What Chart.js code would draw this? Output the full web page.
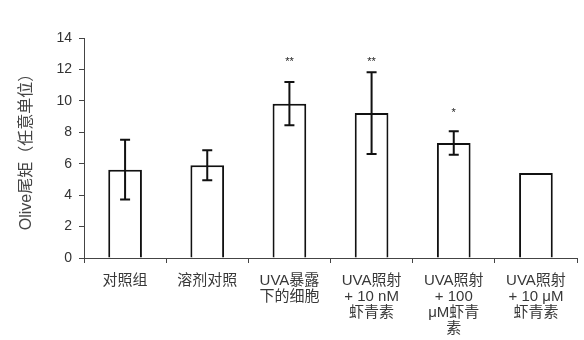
<!DOCTYPE html>
<html><head><meta charset="utf-8">
<script src="https://cdn.jsdelivr.net/npm/chart.js@4"></script>
<style>html,body{margin:0;padding:0;background:#fff}#wrap{width:584px;height:340px}</style>
</head><body><div id="wrap"><canvas id="c" width="584" height="340"></canvas></div>
<script>
const categories = [
  "对照组",
  "溶剂对照",
  ["UVA暴露", "下的细胞"],
  ["UVA照射", "+ 10 nM", "虾青素"],
  ["UVA照射", "+ 100", "μM虾青", "素"],
  ["UVA照射", "+ 10 μM", "虾青素"]
];
const values = [5.62, 5.9, 9.82, 9.22, 7.32, 5.41];
const errors = [1.9, 0.95, 1.38, 2.6, 0.75, 0];
const stars = ["", "", "**", "**", "*", ""];
const starLevels = [null, null, 12.45, 12.45, 9.2, null];
const yTicks = [0, 2, 4, 6, 8, 10, 12, 14];
const yTitle = "Olive尾矩（任意单位）";

const FONT = '"Liberation Sans", Arial, "Noto Sans CJK SC", sans-serif';

const errorBarPlugin = {
  id: 'errbars',
  afterDatasetsDraw(chart) {
    const ctx = chart.ctx;
    const xs = chart.scales.x, ys = chart.scales.y;
    ctx.save();
    ctx.strokeStyle = '#111';
    ctx.lineWidth = 2;
    values.forEach((v, i) => {
      const x = xs.getPixelForValue(i);
      if (errors[i] > 0) {
        const yt = ys.getPixelForValue(v + errors[i]);
        const yb = ys.getPixelForValue(v - errors[i]);
        ctx.beginPath();
        ctx.moveTo(x, yt); ctx.lineTo(x, yb);
        ctx.moveTo(x - 5, yt); ctx.lineTo(x + 5, yt);
        ctx.moveTo(x - 5, yb); ctx.lineTo(x + 5, yb);
        ctx.stroke();
      }
      if (stars[i]) {
        ctx.fillStyle = '#222';
        ctx.font = '11px ' + FONT;
        ctx.textAlign = 'center';
        ctx.textBaseline = 'middle';
        ctx.fillText(stars[i], x, ys.getPixelForValue(starLevels[i]));
      }
    });
    ctx.restore();
  }
};

new Chart(document.getElementById('c'), {
  type: 'bar',
  data: {
    labels: categories,
    datasets: [{
      data: values,
      backgroundColor: '#ffffff',
      borderColor: '#111111',
      borderWidth: 2,
      barPercentage: 0.41,
      categoryPercentage: 1.0
    }]
  },
  options: {
    responsive: false,
    animation: false,
    events: [],
    layout: { padding: { top: 38, right: 7, left: 0, bottom: 0 } },
    plugins: { legend: { display: false }, tooltip: { enabled: false } },
    scales: {
      x: {
        grid: { display: true, drawOnChartArea: false, drawTicks: true, tickLength: 5, color: '#444', offset: true },
        border: { display: true, color: '#444', width: 1 },
        ticks: { color: '#383838', font: { family: FONT, size: 15, lineHeight: 1.07 }, padding: 10, maxRotation: 0, autoSkip: false },
        afterFit(s) { s.height = 82; }
      },
      y: {
        min: 0, max: 14,
        afterBuildTicks(s) { s.ticks = yTicks.map(v => ({ value: v })); },
        grid: { display: true, drawOnChartArea: false, drawTicks: true, tickLength: 5, color: '#444' },
        border: { display: true, color: '#444', width: 1 },
        ticks: { color: '#333', font: { family: FONT, size: 14 }, padding: 7 },
        title: { display: true, text: yTitle, color: '#444', font: { family: FONT, size: 16 }, padding: { top: 17, bottom: 4 } },
        afterFit(s) { s.width = 84; }
      }
    }
  },
  plugins: [errorBarPlugin]
});
</script>
</body></html>
